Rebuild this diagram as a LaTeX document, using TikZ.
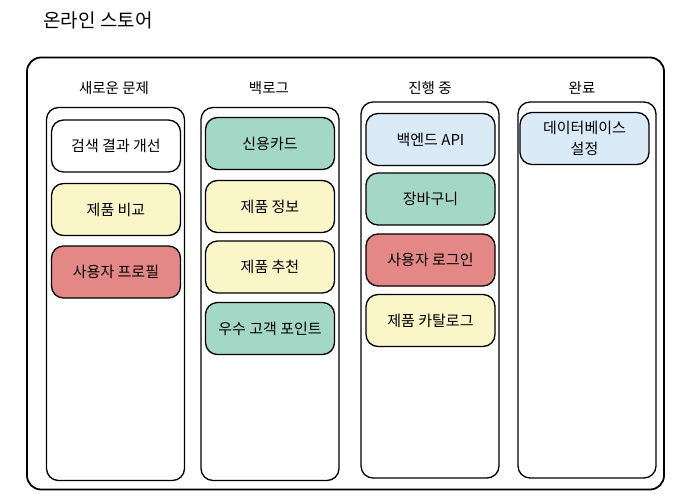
\documentclass[tikz,border=0pt]{standalone}
\usepackage{fontspec}
\newfontfamily\kr{Noto Sans CJK KR}
\definecolor{cteal}{HTML}{A3D7C6}
\definecolor{cyel}{HTML}{FBF6C8}
\definecolor{cred}{HTML}{E38886}
\definecolor{cblue}{HTML}{DAEAF6}
\begin{document}
\begin{tikzpicture}[x=1pt,y=-1pt,
  frame/.style={draw=black,line width=1.8pt,rounded corners=14pt,inner sep=0pt},
  colbox/.style={draw=black,line width=1.3pt,rounded corners=12pt,inner sep=0pt,minimum width=138pt,minimum height=373pt},
  card/.style={draw=black,line width=1.3pt,rounded corners=12pt,minimum width=129pt,minimum height=52pt,font=\kr\fontsize{15}{21}\selectfont,align=center},
  head/.style={font=\kr\fontsize{14.5}{17}\selectfont}]
\useasboundingbox (0,0) rectangle (676,493);
\node[font=\kr\fontsize{19}{22}\selectfont] (title) at (98,20) {온라인 스토어};
\node[frame,minimum width=637pt,minimum height=432pt] (outer) at (345.5,273.5) {};
% headers
\node[head] (h1) at (114,88) {새로운 문제};
\node[head] (h2) at (269,88) {백로그};
\node[head] (h3) at (430,88) {진행 중};
\node[head] (h4) at (582,88) {완료};
% columns
\node[colbox] (c1) at (115.5,294) {};
\node[colbox] (c2) at (270,294) {};
\node[colbox,minimum height=376pt] (c3) at (430,290) {};
\node[colbox,minimum height=376pt] (c4) at (587,290) {};
% column 1
\node[card,fill=white] (a1) at (116,146) {검색 결과 개선};
\node[card,fill=cyel] (a2) at (116,209.5) {제품 비교};
\node[card,fill=cred] (a3) at (116,272) {사용자 프로필};
% column 2
\node[card,fill=cteal] (b1) at (270,143.5) {신용카드};
\node[card,fill=cyel] (b2) at (270,206.5) {제품 정보};
\node[card,fill=cyel] (b3) at (270,267) {제품 추천};
\node[card,fill=cteal] (b4) at (270,328.5) {우수 고객 포인트};
% column 3
\node[card,fill=cblue] (d1) at (430.5,139.5) {백엔드 API};
\node[card,fill=cteal] (d2) at (430.5,199) {장바구니};
\node[card,fill=cred] (d3) at (430.5,260) {사용자 로그인};
\node[card,fill=cyel] (d4) at (430.5,320.5) {제품 카탈로그};
% column 4
\node[card,fill=cblue] (e1) at (584.5,138.5) {데이터베이스\\설정};
\end{tikzpicture}
\end{document}
